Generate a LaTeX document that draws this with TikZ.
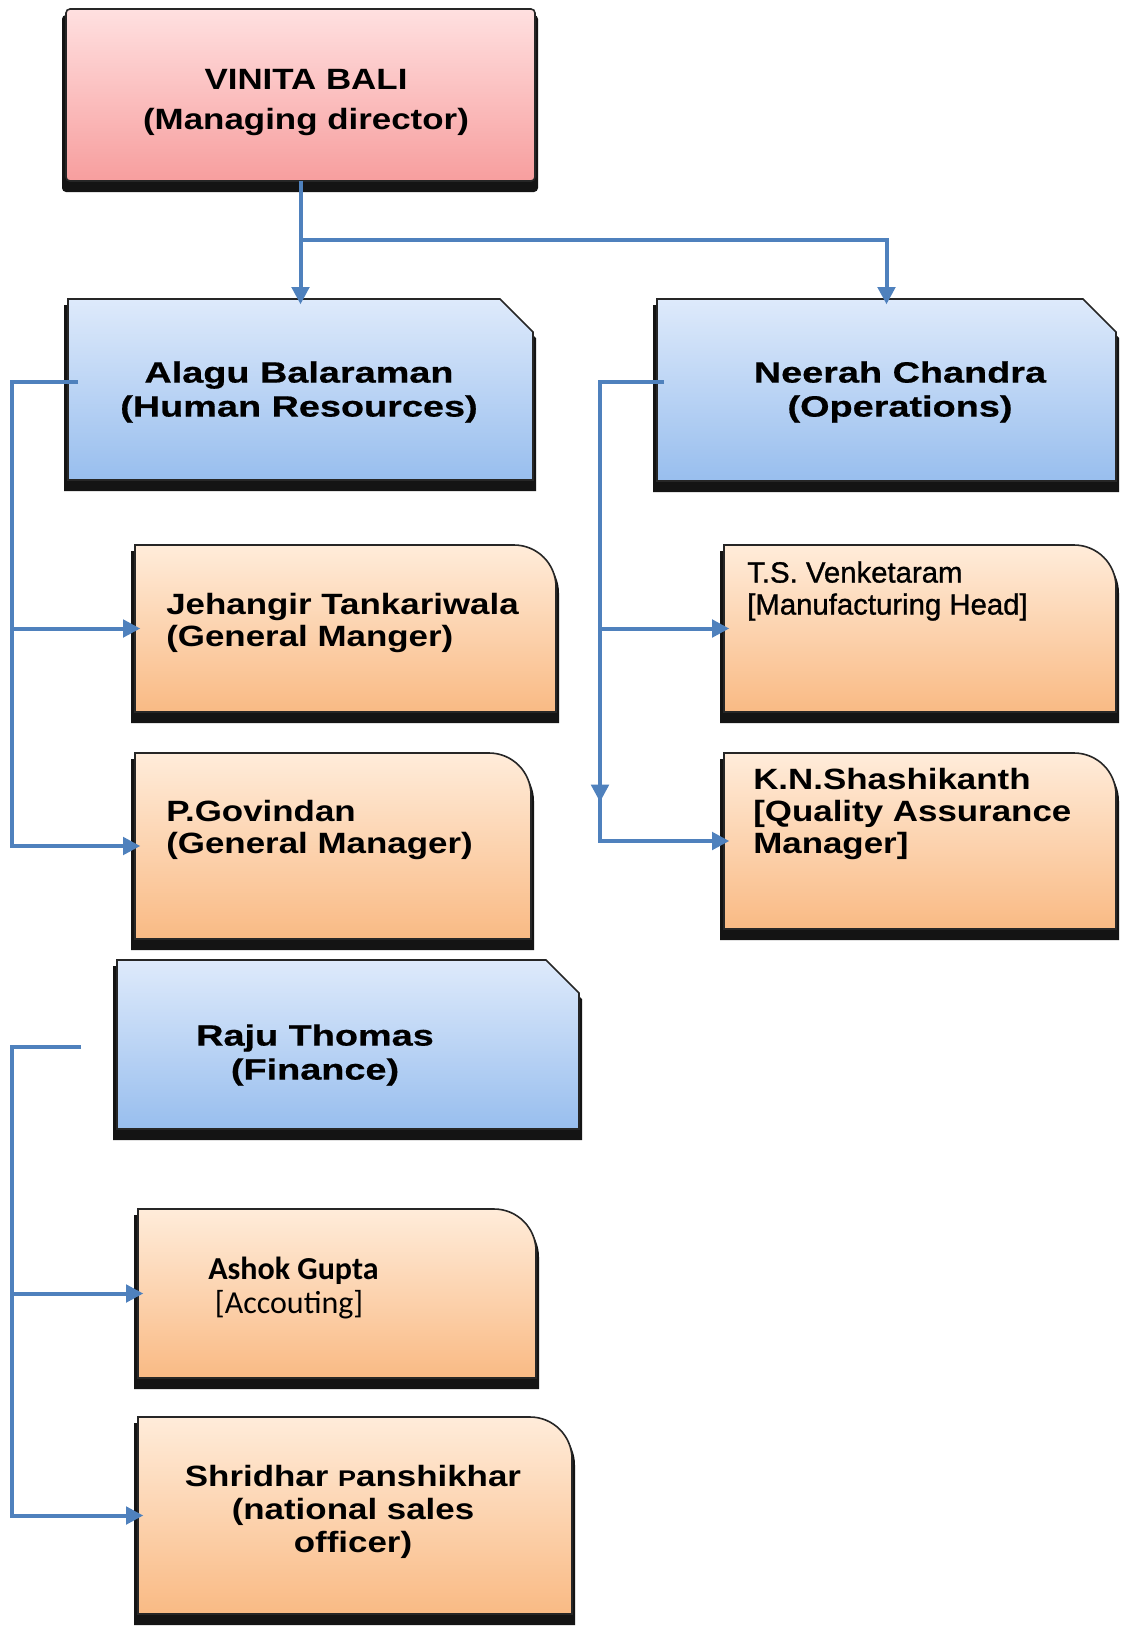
\documentclass[tikz,border=0pt]{standalone}
\usepackage{fontspec}
\setmainfont{Liberation Sans}[FakeStretch=1.19]
\newfontfamily\plainfont{Liberation Sans}[FakeBold=1]
\newfontfamily\widefont{Liberation Sans}[FakeStretch=1.29,FakeBold=0.6]
\newfontfamily\calfont{Carlito}
\usetikzlibrary{calc,fit,arrows.meta}
\definecolor{conncol}{RGB}{79,129,189}
\definecolor{shadowcol}{RGB}{20,20,20}
\definecolor{pinktop}{RGB}{255,224,224}
\definecolor{pinkbot}{RGB}{247,158,158}
\definecolor{bluetop}{RGB}{222,234,251}
\definecolor{bluebot}{RGB}{152,190,238}
\definecolor{orangetop}{RGB}{255,236,218}
\definecolor{orangebot}{RGB}{249,186,132}
\newcommand\cutbox[3]{%
  \fill[shadowcol] ($(#1.north west)+(-4,6)$) -- ($(#1.north east)+(3-#2,6)$) -- ($(#1.north east)+(3,6+#2)$) -- ($(#1.south east)+(3,11)$) -- ($(#1.south west)+(-4,11)$) -- cycle;
  \path[#3] (#1.north west) -- ($(#1.north east)+(-#2,0)$) -- ($(#1.north east)+(0,#2)$) -- (#1.south east) -- (#1.south west) -- cycle;}
\newcommand\roundbox[3]{%
  \fill[shadowcol] ($(#1.south west)+(-4,11)$) -- ($(#1.north west)+(-4,6)$) -- ($(#1.north east)+(3-#2,6)$) arc[start angle=90,end angle=0,radius=#2*0.75pt] -- ($(#1.south east)+(3,11)$) -- cycle;
  \path[#3] (#1.south west) -- (#1.north west) -- ($(#1.north east)+(-#2,0)$) arc[start angle=90,end angle=0,radius=#2*0.75pt] -- (#1.south east) -- cycle;}
\begin{document}
\begin{tikzpicture}[x=0.75pt,y=-0.75pt,
  box/.style={inner sep=0pt,outer sep=0pt},
  pinkfill/.style={top color=pinktop,bottom color=pinkbot,draw=black!85,line width=1.2pt},
  bluefill/.style={top color=bluetop,bottom color=bluebot,draw=black!85,line width=1.2pt},
  orangefill/.style={top color=orangetop,bottom color=orangebot,draw=black!85,line width=1.2pt},
  txt/.style={inner sep=0pt,text=black},
  conn/.style={draw=conncol,line width=3pt},
  arr/.style={conn,-{Triangle[length=13pt,width=13pt]},shorten >=-4pt}]
\useasboundingbox (0,0) rectangle (1122,1628);
\fill[white] (0,0) rectangle (1122,1628);

% box frames
\node[box,fit={(66,9) (535,181)}] (md) {};
\node[box,fit={(68,299) (533,480)}] (alagu) {};
\node[box,fit={(657,299) (1116,481)}] (neerah) {};
\node[box,fit={(135,545) (556,712)}] (jeh) {};
\node[box,fit={(135,753) (531,939)}] (gov) {};
\node[box,fit={(724,545) (1116,712)}] (ts) {};
\node[box,fit={(724,753) (1116,929)}] (kn) {};
\node[box,fit={(117,960) (579,1129)}] (raju) {};
\node[box,fit={(138,1209) (536,1378)}] (ashok) {};
\node[box,fit={(138,1417) (572,1614)}] (shr) {};

% shapes
\fill[shadowcol,rounded corners=3pt] ($(md.north west)+(-4,6)$) rectangle ($(md.south east)+(3,11)$);
\path[pinkfill,rounded corners=3pt] (md.north west) rectangle (md.south east);
\cutbox{alagu}{33}{bluefill}
\cutbox{neerah}{33}{bluefill}
\cutbox{raju}{33}{bluefill}
\roundbox{jeh}{42}{orangefill}
\roundbox{gov}{42}{orangefill}
\roundbox{ts}{42}{orangefill}
\roundbox{kn}{42}{orangefill}
\roundbox{ashok}{42}{orangefill}
\roundbox{shr}{42}{orangefill}

% texts
\node[txt,align=center,font=\bfseries\fontsize{22}{30}\selectfont] (mdT) at (306,103) {VINITA BALI\\(Managing director)};
\node[txt,align=center,font=\widefont\bfseries\fontsize{22}{25.5}\selectfont] (alaguT) at (299,392) {Alagu Balaraman\\(Human Resources)};
\node[txt,align=center,font=\widefont\bfseries\fontsize{22}{25.5}\selectfont] (neerahT) at (900,392) {Neerah Chandra\\(Operations)};
\node[txt,align=left,anchor=west,font=\bfseries\fontsize{22}{23.5}\selectfont] (jehT) at (166,623) {Jehangir Tankariwala\\(General Manger)};
\node[txt,align=left,anchor=west,font=\bfseries\fontsize{22}{23.5}\selectfont] (govT) at (166,830) {P.Govindan\\(General Manager)};
\node[txt,align=left,anchor=west,font=\plainfont\fontsize{22}{24}\selectfont] (tsT) at (747,591) {T.S. Venketaram\\{[}Manufacturing Head{]}};
\node[txt,align=left,anchor=west,font=\bfseries\fontsize{22}{24}\selectfont] (knT) at (753,814) {K.N.Shashikanth\\{[}Quality Assurance\\Manager{]}};
\node[txt,align=center,font=\widefont\bfseries\fontsize{22}{25.5}\selectfont] (rajuT) at (315,1055) {Raju Thomas\\(Finance)};
\node[txt,align=left,anchor=west,font=\calfont\fontsize{24}{26}\selectfont] (ashokT) at (208,1288) {\textbf{Ashok Gupta}\\\hspace*{5pt}{[}Accouting{]}};
\node[txt,align=center,font=\bfseries\fontsize{22}{24.5}\selectfont] (shrT) at (353,1512) {Shridhar {\fontsize{17}{17}\selectfont P}anshikhar\\(national sales\\officer)};

% connectors
\coordinate (mdy) at (0,240);
\coordinate (hrx) at (12,0);
\coordinate (opx) at (600,0);
\coordinate (opdown) at (600,802);
\draw[arr] (md.south) -- (md.south |- alagu.north);
\draw[arr] (md.south |- mdy) -| (neerah.north);
\draw[arr] ($(alagu.west)+(10,-8)$) -| (hrx |- gov.west) -- (gov.west);
\draw[arr] (hrx |- jeh.west) -- (jeh.west);
\draw[arr] ($(neerah.west)+(7,-8)$) -| (opx |- kn.west) -- (kn.west);
\draw[arr] (opx |- ts.west) -- (ts.west);
\draw[arr,shorten >=0pt] (opx |- ts.west) -- (opdown);
\draw[arr] ($(raju.west)+(-36,2)$) -| (hrx |- shr.west) -- (shr.west);
\draw[arr] (hrx |- ashok.west) -- (ashok.west);
\end{tikzpicture}
\end{document}
